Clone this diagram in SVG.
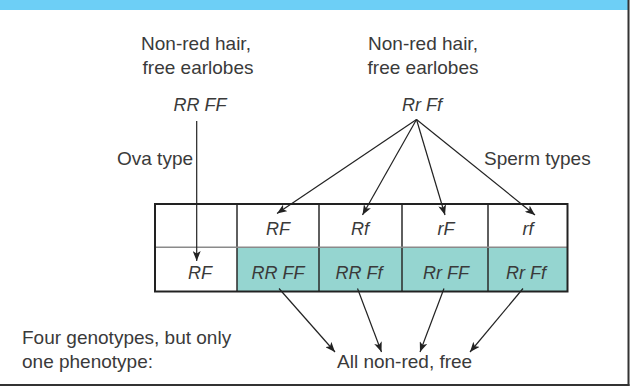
<svg xmlns="http://www.w3.org/2000/svg" width="631" height="387" viewBox="0 0 631 387">
  <style>
    .lbl { font-family: "Liberation Sans", Arial, sans-serif; font-size: 19px; fill: #3a3a3a; }
    .gen { font-family: "Liberation Sans", Arial, sans-serif; font-size: 18px; font-style: italic; fill: #3a3a3a; text-anchor: middle; }
    .mid { text-anchor: middle; }
    .conn { stroke: #222; stroke-width: 1.2; fill: none; marker-end: url(#head); }
    .cell { stroke: #2a2a2a; stroke-width: 1.5; }
  </style>
  <defs>
    <marker id="head" viewBox="0 0 10 8" markerWidth="10" markerHeight="8" refX="10" refY="4" orient="auto" markerUnits="userSpaceOnUse">
      <path d="M0,0 L10,4 L0,8 L2.5,4 Z" fill="#222"/>
    </marker>
  </defs>

  <!-- page background, header band and frame -->
  <rect x="0" y="0" width="631" height="387" fill="#ffffff"/>
  <rect x="0" y="0" width="628" height="10" fill="#6dcff6"/>
  <line x1="628.5" y1="0" x2="628.5" y2="386" stroke="#333" stroke-width="2"/>
  <line x1="0" y1="385" x2="629.5" y2="385" stroke="#333" stroke-width="2"/>

  <!-- parents -->
  <g id="mother">
    <text class="lbl mid" x="196" y="50">Non-red hair,</text>
    <text class="lbl mid" x="198" y="74">free earlobes</text>
    <text class="gen" x="200" y="111">RR FF</text>
  </g>
  <g id="father">
    <text class="lbl mid" x="423" y="50">Non-red hair,</text>
    <text class="lbl mid" x="423" y="74">free earlobes</text>
    <text class="gen" x="422" y="111">Rr Ff</text>
  </g>

  <g id="ova-label">
    <text class="lbl" x="117" y="165">Ova type</text>
  </g>
  <g id="sperm-label">
    <text class="lbl" x="484" y="165">Sperm types</text>
  </g>

  <!-- Punnett square -->
  <g id="punnett">
    <rect x="237" y="247" width="331" height="44.5" fill="#95d5d0"/>
    <line class="cell" x1="237" y1="204" x2="237" y2="291.5"/>
    <line class="cell" x1="319" y1="204" x2="319" y2="291.5"/>
    <line class="cell" x1="402" y1="204" x2="402" y2="291.5"/>
    <line class="cell" x1="488" y1="204" x2="488" y2="291.5"/>
    <line x1="155" y1="247.3" x2="567.5" y2="247.3" stroke="#8a8a8a" stroke-width="1.5"/>
    <rect x="155" y="204" width="412.5" height="87.5" fill="none" stroke="#222" stroke-width="2"/>
    <text class="gen" x="278" y="235">RF</text>
    <text class="gen" x="360" y="235">Rf</text>
    <text class="gen" x="446" y="235">rF</text>
    <text class="gen" x="528" y="235">rf</text>
    <text class="gen" x="200" y="278.5">RF</text>
    <text class="gen" x="278" y="278.5">RR FF</text>
    <text class="gen" x="359" y="278.5">RR Ff</text>
    <text class="gen" x="446" y="278.5">Rr FF</text>
    <text class="gen" x="526" y="278.5">Rr Ff</text>
  </g>

  <g id="summary">
    <text class="lbl" x="22" y="344">Four genotypes, but only</text>
    <text class="lbl" x="22" y="368">one phenotype:</text>
  </g>
  <g id="phenotype">
    <text class="lbl" x="337" y="368">All non-red, free</text>
  </g>

  <!-- connectors -->
  <g id="connectors">
    <line class="conn" x1="196.7" y1="121" x2="196.7" y2="261"/>
    <line class="conn" x1="416.5" y1="119.5" x2="277" y2="213.5"/>
    <line class="conn" x1="416.5" y1="119.5" x2="362.5" y2="215"/>
    <line class="conn" x1="416.5" y1="119.5" x2="445" y2="215"/>
    <line class="conn" x1="416.5" y1="119.5" x2="535" y2="215"/>
    <line class="conn" x1="279" y1="288.5" x2="335" y2="352"/>
    <line class="conn" x1="357.5" y1="288.5" x2="381.5" y2="352"/>
    <line class="conn" x1="444" y1="288.5" x2="420" y2="352"/>
    <line class="conn" x1="523" y1="288.5" x2="470" y2="352"/>
  </g>
</svg>
